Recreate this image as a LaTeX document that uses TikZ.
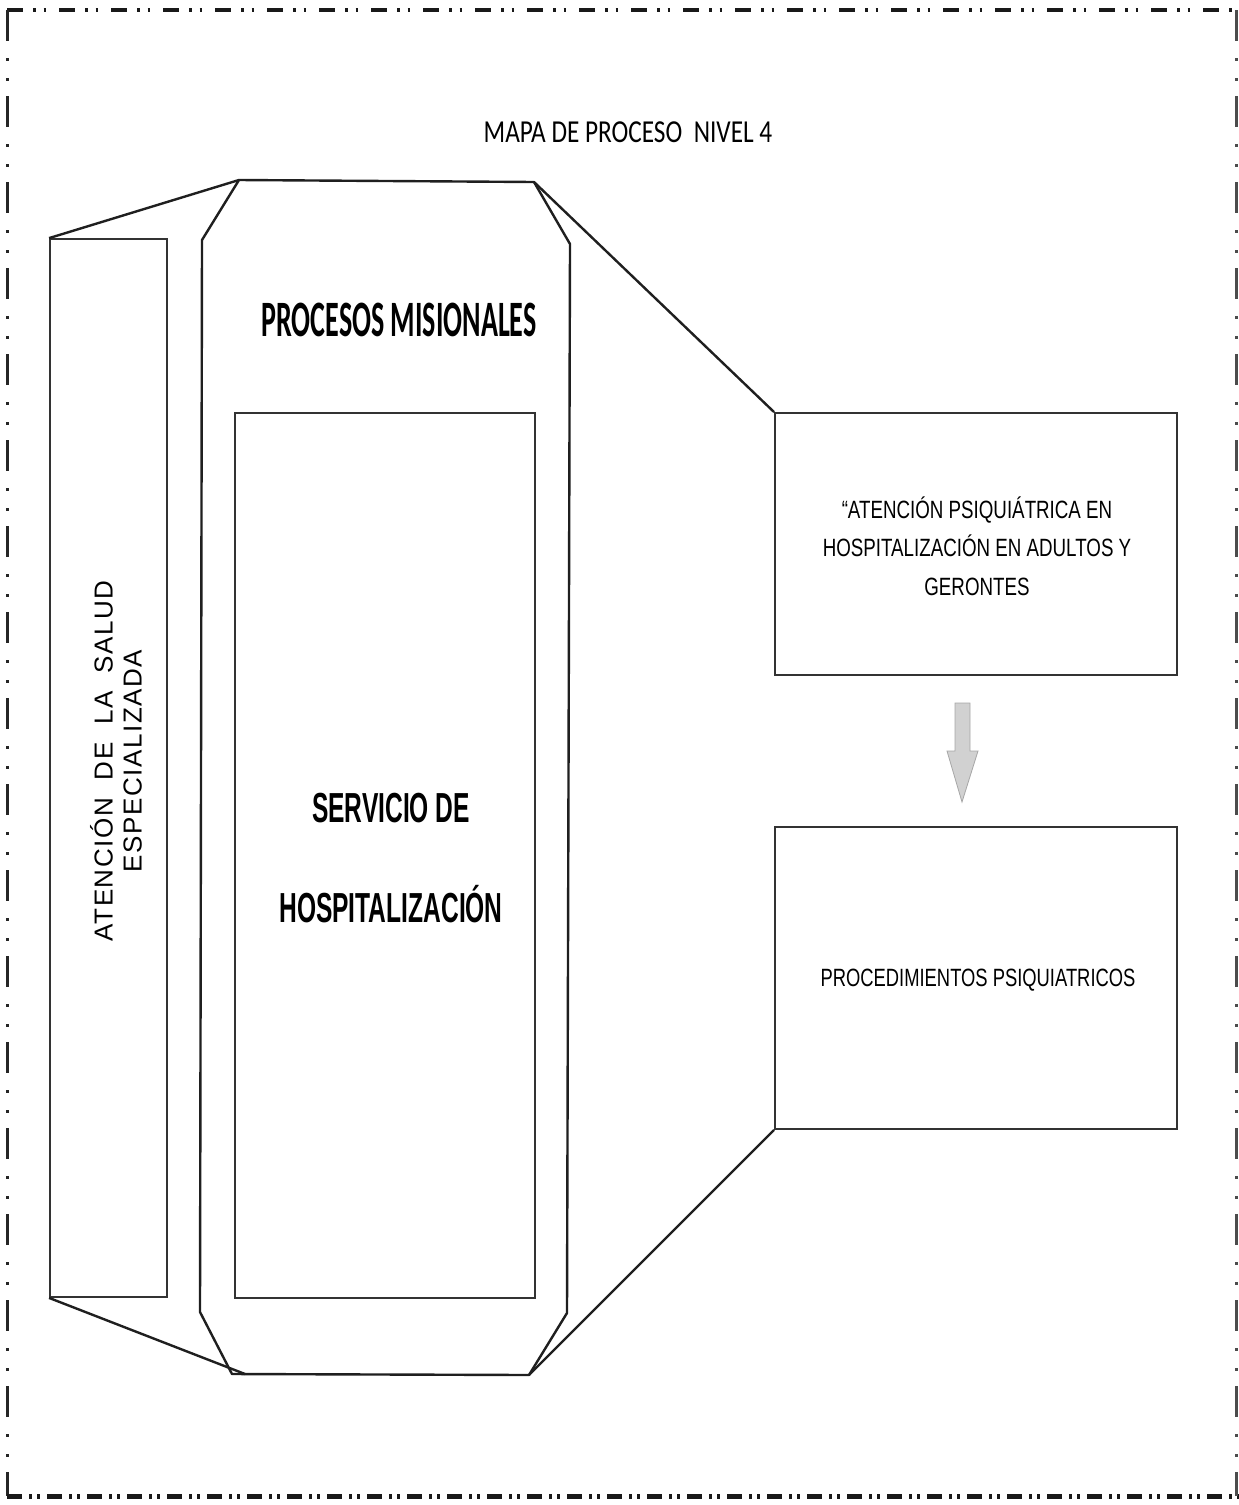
\documentclass[tikz,border=0pt]{standalone}
\usepackage{fontspec}
\usepackage{graphicx}
\setmainfont{Liberation Sans}
\newfontfamily\calib{Carlito}
\newfontfamily\spacedsans[LetterSpace=6]{Liberation Sans}
\newcommand\narrowtxt[2]{\scalebox{#1}[1]{#2}}
\begin{document}
\begin{tikzpicture}[x=1pt,y=-1pt,
  shapeline/.style={line width=2.4pt, draw=black!88, line join=round},
  boxline/.style={draw=black!80, line width=1.8pt, fill=none, inner sep=0pt},
  bordertop/.style={line width=4pt, black!90, dash pattern=on 16pt off 10pt on 2.5pt off 8pt on 2.5pt off 13pt},
  borderbottom/.style={line width=5pt, black!90, dash pattern=on 15pt off 7pt on 3pt off 5pt on 3pt off 7pt},
  borderside/.style={line width=3pt, black!85, dash pattern=on 31pt off 17pt on 3pt off 17pt on 3pt off 15pt},
  txt/.style={inner sep=0pt, text=black},
]
\useasboundingbox (0,0) rectangle (1239,1505);

% outer dash-dot-dot frame
\coordinate (ftl) at (7,10);
\coordinate (ftr) at (1239,10);
\coordinate (fbl) at (7,1496);
\coordinate (fbr) at (1239,1496);
\coordinate (frt) at (1236,10);
\coordinate (frb) at (1236,1496);
\draw[bordertop] (ftl) -- (ftr);
\draw[borderside] (ftl) -- (fbl);
\draw[borderbottom] (fbl) -- (fbr);
\draw[borderside, black!70] (frt) -- (frb);

% title
\node[txt, font=\calib\fontsize{32}{38}\selectfont] (title) at (628,132)
  {\narrowtxt{0.79}{MAPA DE PROCESO~ NIVEL 4}};

% octagon (procesos misionales)
\coordinate (o1) at (239,180);
\coordinate (o2) at (534,182);
\coordinate (o3) at (570,244);
\coordinate (o4) at (567,1313);
\coordinate (o5) at (529,1375);
\coordinate (o6) at (232,1374);
\coordinate (o7) at (200,1312);
\coordinate (o8) at (202,240);
\coordinate (o6b) at (245,1374);
\draw[shapeline] (o1) -- (o2) -- (o3) -- (o4) -- (o5) -- (o6) -- (o7) -- (o8) -- cycle;

% left column
\node[boxline, minimum width=117pt, minimum height=1058pt] (lcol) at (108.5,768) {};
\node[txt, rotate=90, align=center, font=\spacedsans\fontsize{26}{29}\selectfont] (ltext) at (116,761)
  {ATENCIÓN\hspace{9pt} DE\hspace{9pt} LA\hspace{9pt} SALUD\\ESPECIALIZADA};
\draw[shapeline] (lcol.north west) -- (o1);
\draw[shapeline] (lcol.south west) -- (o6b);

% labels in the octagon
\node[txt, font=\calib\bfseries\fontsize{51}{56}\selectfont] (misional) at (399,320)
  {\narrowtxt{0.55}{PROCESOS MISIONALES}};
\node[boxline, minimum width=300pt, minimum height=885pt] (srv) at (385,855.5) {};
\node[txt, anchor=base, font=\bfseries\fontsize{42}{48}\selectfont] (srv1) at (391,822)
  {\narrowtxt{0.585}{SERVICIO DE}};
\node[txt, anchor=base, font=\bfseries\fontsize{42}{48}\selectfont] (srv2) at (391,922)
  {\narrowtxt{0.585}{HOSPITALIZACIÓN}};

% right boxes
\node[boxline, minimum width=402pt, minimum height=262pt] (b1) at (976,544) {};
\node[txt, align=center, font=\fontsize{25}{38.5}\selectfont] (b1t) at (977,546)
  {\narrowtxt{0.75}{“ATENCIÓN PSIQUIÁTRICA EN}\\
   \narrowtxt{0.75}{HOSPITALIZACIÓN EN ADULTOS Y}\\
   \narrowtxt{0.75}{GERONTES}};
\node[boxline, minimum width=402pt, minimum height=302pt] (b2) at (976,978) {};
\node[txt, font=\fontsize{25}{30}\selectfont] (b2t) at (978,980)
  {\narrowtxt{0.735}{PROCEDIMIENTOS PSIQUIATRICOS}};

\draw[shapeline] (o2) -- (b1.north west);
\draw[shapeline] (o5) -- (b2.south west);

% grey block arrow
\coordinate (a1) at (955,703);
\coordinate (a2) at (970,703);
\coordinate (a3) at (970,751);
\coordinate (a4) at (978,751);
\coordinate (a5) at (962,802);
\coordinate (a6) at (947,751);
\coordinate (a7) at (955,751);
\draw[fill=black!18, draw=black!35, line width=0.8pt]
  (a1) -- (a2) -- (a3) -- (a4) -- (a5) -- (a6) -- (a7) -- cycle;
\end{tikzpicture}
\end{document}
